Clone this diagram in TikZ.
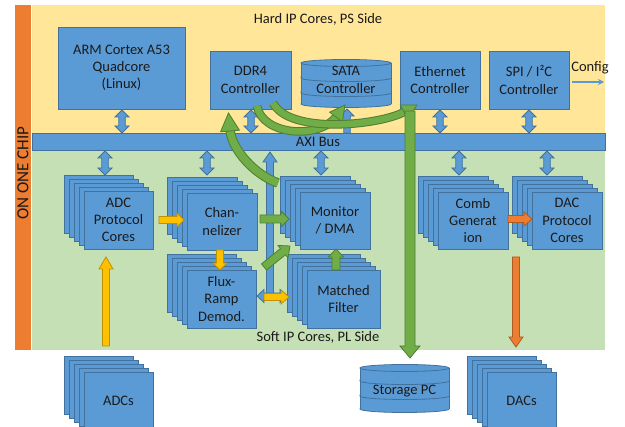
\documentclass[tikz,border=0pt]{standalone}
\usepackage{fontspec}
\setmainfont{Carlito}
\usetikzlibrary{arrows.meta}
\definecolor{bfill}{HTML}{5B9BD5}
\definecolor{bline}{HTML}{41719C}
\definecolor{ypanel}{HTML}{FFE699}
\definecolor{gpanel}{HTML}{C5E0B4}
\definecolor{obar}{HTML}{ED7D31}
\definecolor{yfill}{HTML}{FFC000}
\definecolor{yline}{HTML}{BF9000}
\definecolor{gfill}{HTML}{70AD47}
\definecolor{gline}{HTML}{507E32}
\definecolor{oline}{HTML}{AE5A21}
\definecolor{txt}{HTML}{1A1A1A}
\tikzset{
 boxst/.style={fill=bfill, draw=bline, line width=0.9pt},
 lbl/.style={font=\fontsize{14.5}{17.3}\selectfont, align=center, text=txt},
 bluearr/.style={fill=bfill, draw=bline, line width=0.8pt},
 yarr/.style={fill=yfill, draw=yline, line width=0.8pt},
 garr/.style={fill=gfill, draw=gline, line width=0.8pt},
 oarr/.style={fill=obar, draw=oline, line width=0.8pt},
 diskst/.style={fill=bfill, draw=bline, line width=0.8pt},
}
% single block arrow: style, x1,y1 (tail), x2,y2 (tip), half shaft, half head, head length
\newcommand\barrow[8]{%
 \pgfmathsetmacro\bdx{#4-#2}\pgfmathsetmacro\bdy{#5-#3}%
 \pgfmathsetmacro\bL{veclen(\bdx,\bdy)}\pgfmathsetmacro\bA{atan2(-\bdy,\bdx)}%
 \pgfmathsetmacro\bB{\bL-#8}%
 \begin{scope}[shift={(#2,#3)},rotate=\bA]
 \filldraw[#1] (0,-#6) -- (\bB,-#6) -- (\bB,-#7) -- (\bL,0) -- (\bB,#7) -- (\bB,#6) -- (0,#6) -- cycle;
 \end{scope}}
% double block arrow
\newcommand\dbarrow[8]{%
 \pgfmathsetmacro\bdx{#4-#2}\pgfmathsetmacro\bdy{#5-#3}%
 \pgfmathsetmacro\bL{veclen(\bdx,\bdy)}\pgfmathsetmacro\bA{atan2(-\bdy,\bdx)}%
 \pgfmathsetmacro\bB{\bL-#8}%
 \begin{scope}[shift={(#2,#3)},rotate=\bA]
 \filldraw[#1] (0,0) -- (#8,-#7) -- (#8,-#6) -- (\bB,-#6) -- (\bB,-#7) -- (\bL,0) -- (\bB,#7) -- (\bB,#6) -- (#8,#6) -- (#8,#7) -- cycle;
 \end{scope}}
% arrow head only: style, base x,y, tip x,y, half width
\newcommand\ahead[6]{%
 \pgfmathsetmacro\bdx{#4-#2}\pgfmathsetmacro\bdy{#5-#3}%
 \pgfmathsetmacro\bL{veclen(\bdx,\bdy)}\pgfmathsetmacro\bA{atan2(-\bdy,\bdx)}%
 \begin{scope}[shift={(#2,#3)},rotate=\bA]
 \filldraw[#1] (0,-#6) -- (\bL,0) -- (0,#6) -- cycle;
 \end{scope}}
% disk segment: x1, x2, ytop, ybottom
\newcommand\diskseg[4]{%
 \pgfmathsetmacro\dcx{(#1+#2)/2}\pgfmathsetmacro\drx{(#2-#1)/2}%
 \filldraw[diskst] (\dcx,#4) ellipse[x radius=\drx, y radius=3.5];
 \fill[bfill] (#1,#3) rectangle (#2,#4);
 \draw[bline, line width=0.8pt] (#1,#3) -- (#1,#4) (#2,#3) -- (#2,#4);
 \filldraw[diskst] (\dcx,#3) ellipse[x radius=\drx, y radius=3.5];}
% stack of cards: name, x1, y1, x2, y2 (front card), text
\newcommand\stackbox[6]{%
 \foreach \k in {4,3,2,1}{\filldraw[boxst] ({#2-5*\k},{#3-4*\k}) rectangle ({#4-5*\k},{#5-4*\k});}
 \pgfmathsetmacro\sw{#4-#2}\pgfmathsetmacro\sh{#5-#3}%
 \node[boxst, lbl, inner sep=0pt, minimum width=\sw pt, minimum height=\sh pt] (#1) at ({(#2+#4)/2},{(#3+#5)/2}) {#6};}

\begin{document}
\begin{tikzpicture}[x=1pt,y=-1pt]
\useasboundingbox (0,0) rectangle (625,427);
\clip (0,0) rectangle (625,427);
\fill[white] (0,0) rectangle (625,427);
% panels
\fill[obar] (15,5) rectangle (31,350);
\node[rotate=90, font=\fontsize{17}{20}\selectfont, text=txt] (chip) at (23,173) {ON ONE CHIP};
\fill[ypanel] (32,5) rectangle (605,133);
\fill[gpanel] (32,150) rectangle (605,350);
\node[lbl] (hard) at (318,19) {Hard IP Cores, PS Side};
\node[lbl] (soft) at (318,337) {Soft IP Cores, PL Side};
% bus
\node[boxst, inner sep=0pt, minimum width=573pt, minimum height=17pt] (bus) at (318.5,141.5) {};
\node[lbl] (buslbl) at (318,142) {AXI Bus};
% top boxes
\node[boxst, lbl, inner sep=0pt, minimum width=127pt, minimum height=82pt] (arm) at (121.5,68) {ARM Cortex A53\\Quadcore\\(Linux)};
\node[boxst, lbl, inner sep=0pt, minimum width=81pt, minimum height=58pt] (ddr) at (250.5,80) {DDR4\\Controller};
\node[boxst, lbl, inner sep=0pt, minimum width=80pt, minimum height=58pt] (eth) at (440,80) {Ethernet\\Controller};
\node[boxst, lbl, inner sep=0pt, minimum width=80pt, minimum height=58pt] (spi) at (529,80) {SPI / I²C\\Controller};
% SATA cylinder
\diskseg{301}{391}{92}{104}
\diskseg{301}{391}{77}{93}
\diskseg{301}{391}{63}{78}
\node[lbl] (sata) at (346,80) {SATA\\Controller};
% config
\node[lbl] (config) at (590,68) {Config};
\coordinate (cfgA) at (572,82);
\coordinate (cfgB) at (604,82);
\draw[bfill, line width=1.3pt, -{Stealth[length=6pt,width=6pt]}] (cfgA) -- (cfgB);
% bus connectors
\dbarrow{bluearr}{122}{110}{122}{133}{3.25}{7}{7}
\dbarrow{bluearr}{251}{110}{251}{133}{3.25}{7}{7}
\barrow{bluearr}{347}{133}{347}{109}{3.25}{7}{7}
\dbarrow{bluearr}{440}{110}{440}{133}{3.25}{7}{7}
\dbarrow{bluearr}{529}{110}{529}{133}{3.25}{7}{7}
\dbarrow{bluearr}{105}{151}{105}{175}{3.25}{7}{7}
\dbarrow{bluearr}{207}{151}{207}{175}{3.25}{7}{7}
\dbarrow{bluearr}{321}{151}{321}{175}{3.25}{7}{7}
\dbarrow{bluearr}{459}{151}{459}{175}{3.25}{7}{7}
\dbarrow{bluearr}{547}{151}{547}{175}{3.25}{7}{7}
% soft cores
\stackbox{adcp}{84}{191}{153}{249}{ADC\\Protocol\\Cores}
\stackbox{chan}{187}{193}{257}{250}{Chan-\\nelizer}
\stackbox{flux}{187}{270}{256}{328}{Flux-\\Ramp\\Demod.}
\stackbox{mon}{300}{192}{370}{249}{Monitor\\/ DMA}
\stackbox{mf}{307}{270}{380}{328}{Matched\\Filter}
\stackbox{comb}{438}{192}{508}{249}{Comb\\Generat\\ion}
\stackbox{dacp}{532}{192}{602}{249}{DAC\\Protocol\\Cores}
% external
\stackbox{adcs}{84}{372}{153}{430}{ADCs}
\stackbox{dacs}{487}{372}{556}{430}{DACs}
\diskseg{360}{449}{395}{409}
\diskseg{360}{449}{380}{396}
\diskseg{360}{449}{368}{381}
\node[lbl] (storage) at (404.5,391) {Storage PC};
% blue T arrow
\barrow{bluearr}{270}{299}{270}{152}{3.5}{7}{10}
\dbarrow{bluearr}{257}{296}{287}{296}{3}{6.5}{7}
% yellow arrows
\barrow{yarr}{106}{346}{106}{257}{3.5}{7}{12}
\barrow{yarr}{159}{220}{184}{220}{3.5}{7}{7}
\barrow{yarr}{220}{250}{220}{270}{3.5}{7}{7}
\barrow{yarr}{264}{297}{289}{297}{3.5}{7}{8}
% green small arrows
\barrow{garr}{260}{219}{289}{219}{4}{8}{8}
\barrow{garr}{264}{267}{290}{246}{4}{8}{9}
\barrow{garr}{336}{270}{336}{249}{4}{7.5}{8}
% orange arrows
\barrow{oarr}{508}{219}{532}{219}{3.5}{7}{8}
\barrow{oarr}{516}{257}{516}{347}{3.5}{7}{10}
% green curved arrows
\draw[gline, line width=9.5pt] (278,183) .. controls (255,175) and (232,150) .. (230,130);
\draw[gfill, line width=7.5pt] (278,183) .. controls (255,175) and (232,150) .. (230,130);
\ahead{garr}{230}{131}{228.5}{113}{9.5}
\draw[gline, line width=8.5pt] (257,106) .. controls (262,135) and (318,140) .. (336,117);
\draw[gfill, line width=6.5pt] (257,106) .. controls (262,135) and (318,140) .. (336,117);
\ahead{garr}{336}{117}{345}{105}{8}
\draw[gline, line width=8.5pt] (273,103) .. controls (290,135) and (380,125) .. (404,112);
\draw[gfill, line width=6.5pt] (273,103) .. controls (290,135) and (380,125) .. (404,112);
\ahead{garr}{404}{112}{417}{105}{8}
% green straight to storage
\barrow{garr}{410}{111}{410}{358}{5}{10}{12}
\end{tikzpicture}
\end{document}
